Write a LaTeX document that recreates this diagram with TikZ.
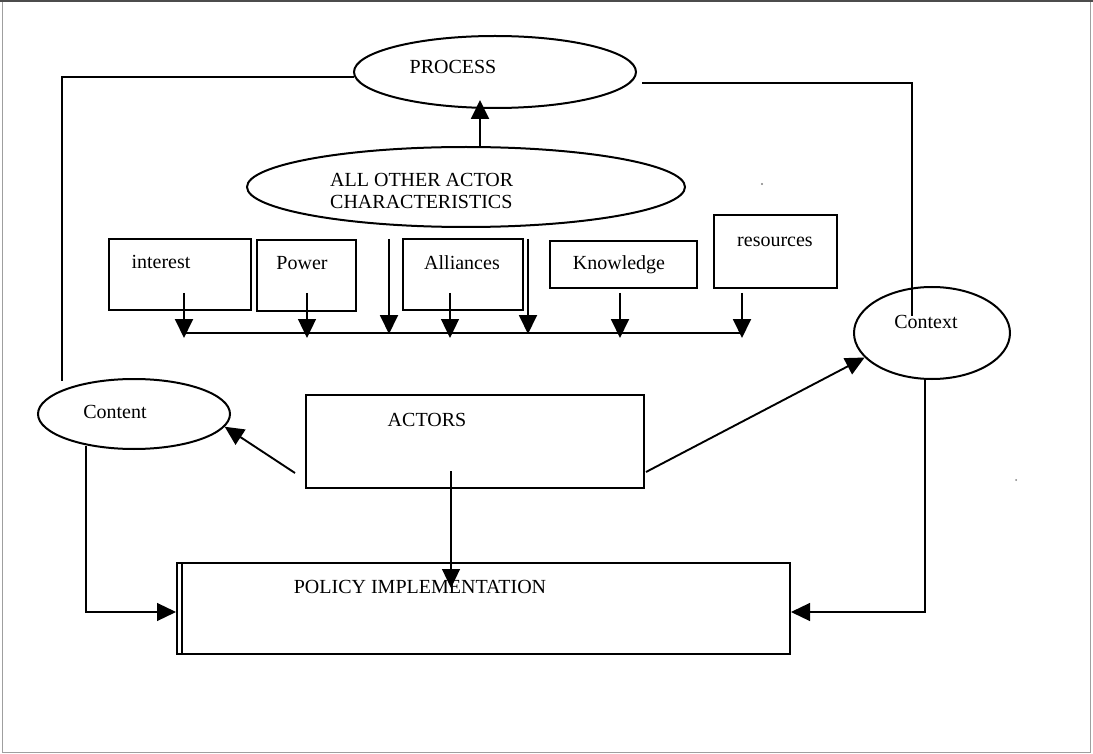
\documentclass[tikz,border=0pt]{standalone}
\usepackage{fontspec}
\setmainfont{Liberation Serif}
\usetikzlibrary{arrows.meta,shapes.geometric}
\begin{document}
\begin{tikzpicture}[x=1pt,y=-1pt,
  every node/.style={font=\fontsize{20}{22}\selectfont, inner sep=0pt},
  ell/.style={draw, ellipse, line width=2pt, inner sep=0pt},
  box/.style={draw, rectangle, line width=2pt, inner sep=0pt},
  conn/.style={line width=1.9pt},
  thinc/.style={line width=1.2pt},
  arr/.style={-{Triangle[length=19pt,width=18pt]}},
]
\useasboundingbox (0,0) rectangle (1093,754);
% frame
\draw[gray!75, line width=1pt] (2,2) rectangle (1090,752);
\draw[black!70, line width=1.6pt] (0,1) -- (1093,1);

% ellipses
\node[ell, minimum width=282pt, minimum height=72pt] (proc) at (495,72) {};
\node[ell, minimum width=438pt, minimum height=80pt] (aoc) at (466,187) {};
\node[ell, minimum width=192pt, minimum height=70pt] (cont) at (134,414) {};
\node[ell, minimum width=156pt, minimum height=92pt] (ctx) at (932,333) {};

% boxes
\node[box, minimum width=142pt, minimum height=71pt] (int) at (180,274.5) {};
\node[box, minimum width=99pt, minimum height=71pt] (pow) at (306.5,275.5) {};
\node[box, minimum width=120pt, minimum height=71pt] (ali) at (463,274.5) {};
\node[box, minimum width=147pt, minimum height=47pt] (know) at (623.5,264.5) {};
\node[box, minimum width=123pt, minimum height=73pt] (res) at (775.5,251.5) {};
\node[box, minimum width=338pt, minimum height=93pt] (act) at (475,441.5) {};
\node[box, minimum width=613pt, minimum height=91pt] (pol) at (483.5,608.5) {};
\draw[line width=1.2pt] ([xshift=6pt]pol.north west) -- ([xshift=6pt]pol.south west);

% texts
\node[anchor=base] (tproc) at (453,74) {PROCESS};
\node[anchor=base west] (taoc1) at (330,187) {ALL OTHER ACTOR};
\node[anchor=base west] (taoc2) at (330,209) {CHARACTERISTICS};
\node[anchor=base] (tint) at (161,269) {interest};
\node[anchor=base] (tpow) at (302,270) {Power};
\node[anchor=base] (tali) at (462,270) {Alliances};
\node[anchor=base] (tknow) at (619,270) {Knowledge};
\node[anchor=base] (tres) at (775,247) {resources};
\node[anchor=base] (tcont) at (115,418) {Content};
\node[anchor=base] (tctx) at (926,328) {Context};
\node[anchor=base] (tact) at (427,426) {ACTORS};
\node[anchor=base] (tpol) at (420,593) {POLICY IMPLEMENTATION};

% named free ends
\coordinate (cL) at (62,381);
\coordinate (cR1) at (642,83);
\coordinate (cR2) at (912,316);
\coordinate (b1) at (184,333);
\coordinate (b2) at (742,333);
\coordinate (a1s) at (451,471);
\coordinate (a1e) at (451,588);
\coordinate (cc1) at (86,446);

% outer loop lines
\draw[conn] (proc.182) -| (cL);
\draw[conn] (cR1) -| (cR2);

% all other -> process
\draw[conn,arr,shorten >=-9pt] (aoc.north -| 480,0) -- (proc.south -| 480,0);

% bar and arrows into it
\draw[conn] (b1) -- (b2);
\draw[conn,arr] (184,293) -- (184,338);
\draw[thinc,arr] (307,293) -- (307,338);
\draw[conn,arr,shorten <=11pt] (aoc.south -| 389,0) -- (389,334);
\draw[thinc,arr] (450,293) -- (450,338);
\draw[conn,arr,shorten <=11pt] (aoc.south -| 528,0) -- (528,334);
\draw[conn,arr] (620,293) -- (620,338);
\draw[conn,arr] (742,293) -- (742,338);

% actors connections
\draw[conn,arr] ([xshift=-10pt,yshift=-31.5pt]act.west) -- (cont.-8);
\draw[conn,arr] ([xshift=1pt,yshift=-30.5pt]act.east) -- (ctx.200);
\draw[thinc,arr] (a1s) -- (a1e);

% to policy implementation
\draw[thinc,arr] (cc1) |- ([yshift=-3.5pt]pol.west);
\draw[thinc,arr] (ctx.south -| 925,0) |- ([yshift=-3.5pt]pol.east);

% scan specks
\fill[gray] (1016,480) circle (1pt);
\fill[gray] (762,184) circle (1.2pt);
\end{tikzpicture}
\end{document}
